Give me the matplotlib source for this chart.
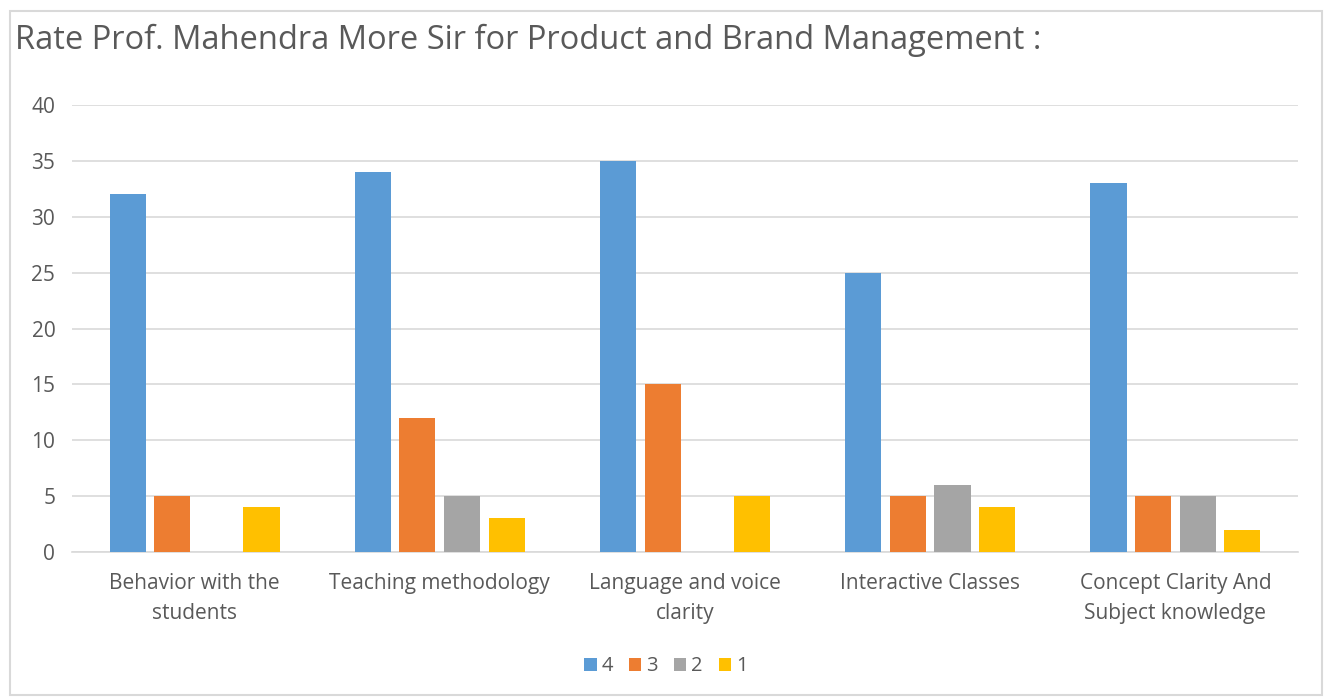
import numpy as np
import matplotlib.pyplot as plt
from matplotlib.patches import Rectangle

categories = ["Behavior with the\nstudents", "Teaching methodology", "Language and voice\nclarity",
              "Interactive Classes", "Concept Clarity And\nSubject knowledge"]
series_names = ["4", "3", "2", "1"]
rate_4 = [32, 34, 35, 25, 33]
rate_3 = [5, 12, 15, 5, 5]
rate_2 = [0, 5, 0, 6, 5]
rate_1 = [4, 3, 5, 4, 2]
colors = ["#5B9BD5", "#ED7D31", "#A5A5A5", "#FFC000"]
text_color = "#595959"

plt.rcParams['font.family'] = ['Open Sans', 'DejaVu Sans']

fig = plt.figure(figsize=(13.32, 7.0), dpi=100)
fig.patches.append(Rectangle((0.0075, 0.007), 0.985, 0.978, transform=fig.transFigure,
                             fill=False, edgecolor="#D9D9D9", linewidth=1.5))
ax = fig.add_axes([0.054, 0.2114, 0.9205, 0.6386])

x = np.arange(len(categories))
width = 0.147
step = 0.182
for i, (vals, name) in enumerate(zip([rate_4, rate_3, rate_2, rate_1], series_names)):
    offset = (i - 1.5) * step
    ax.bar(x + offset, vals, width, color=colors[i], label=name, zorder=3)

ax.set_xlim(-0.5, len(categories) - 0.5)
ax.set_ylim(0, 40)
ax.set_yticks(range(0, 41, 5))
ax.yaxis.grid(True, color="#D9D9D9", linewidth=1.2, zorder=0)
ax.set_xticks(x)
ax.set_xticklabels(categories, fontsize=15, color=text_color, linespacing=1.55)
ax.tick_params(axis="y", labelsize=15, colors=text_color, length=0, pad=12)
ax.tick_params(axis="x", length=0, pad=15)
for s in ["top", "right", "left"]:
    ax.spines[s].set_visible(False)
ax.spines["bottom"].set_color("#D9D9D9")
ax.spines["bottom"].set_linewidth(1.2)

fig.text(0.011, 0.943, "Rate Prof. Mahendra More Sir for Product and Brand Management :",
         fontsize=23.5, color=text_color, va="center", ha="left")

leg = fig.legend(loc="center", bbox_to_anchor=(0.5, 0.048), ncol=4, frameon=False,
                 fontsize=14.5, handlelength=0.6, handleheight=0.6, handletextpad=0.25,
                 columnspacing=0.8)
for t in leg.get_texts():
    t.set_color(text_color)

fig.savefig("out.png", dpi=100)
